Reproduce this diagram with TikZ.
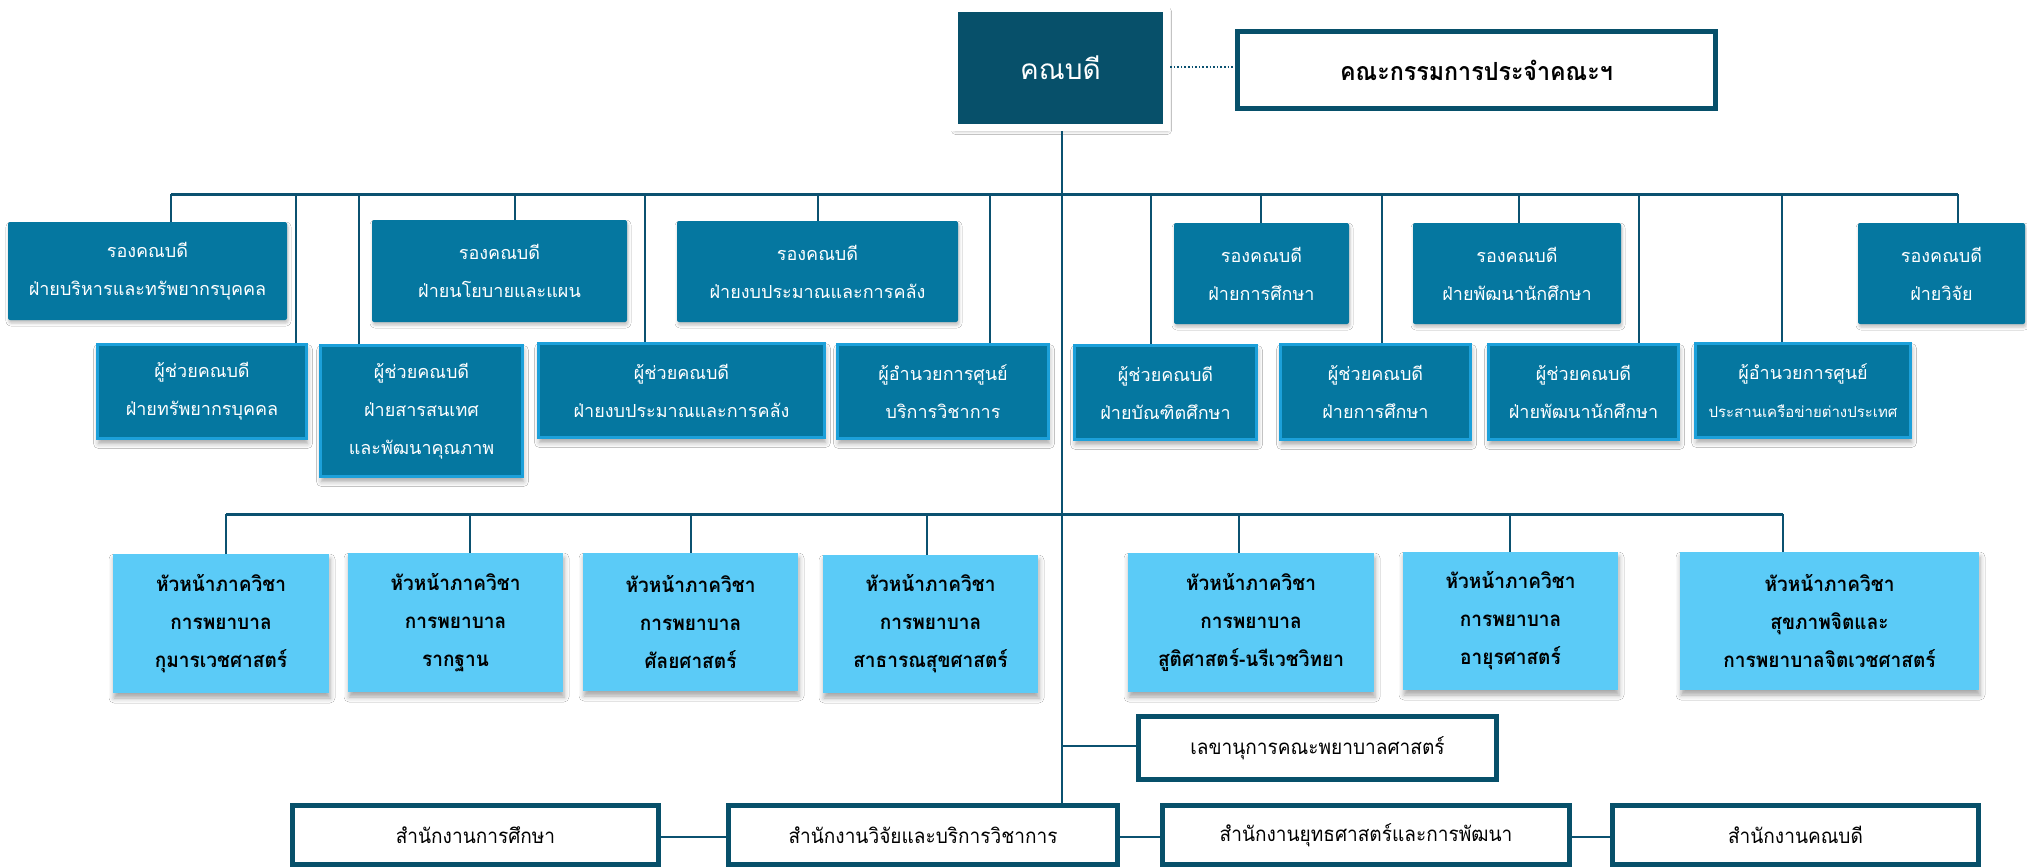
\documentclass[tikz,border=0pt]{standalone}
\usepackage{fontspec}
\setmainfont[Script=Thai]{Loma}
\newfontfamily\thaicond[Script=Thai,FakeStretch=0.93]{Loma}
\usetikzlibrary{shadows.blur}
\definecolor{deancol}{HTML}{07506A}
\definecolor{midcol}{HTML}{0577A0}
\definecolor{lightcol}{HTML}{5BCBF7}
\definecolor{edgecol}{HTML}{1CA0DA}
\definecolor{linecol}{HTML}{0B5170}
\tikzset{
  conn/.style={draw=linecol, line width=2.4pt},
  bus/.style={draw=linecol, line width=3pt},
  deanbox/.style={fill=deancol, draw=white, line width=7pt, text=white, inner sep=0pt, align=center,
    blur shadow={shadow xshift=1pt, shadow yshift=-3pt, shadow blur radius=4pt, shadow opacity=40},
    font=\fontsize{28}{30}\selectfont},
  combox/.style={fill=white, draw=deancol, line width=5pt, inner sep=0pt, align=center,
    font=\thaicond\bfseries\fontsize{25}{30}\selectfont},
  vicebox/.style={fill=midcol, rounded corners=2pt, text=white, inner sep=0pt, align=center,
    blur shadow={shadow xshift=1pt, shadow yshift=-3pt, shadow blur radius=3pt, shadow opacity=25},
    font=\fontsize{18}{38}\selectfont},
  asstbox/.style={fill=midcol, draw=edgecol, line width=3pt, text=white, inner sep=0pt, align=center,
    blur shadow={shadow xshift=1pt, shadow yshift=-5pt, shadow blur radius=5pt, shadow opacity=35},
    font=\fontsize{18}{38}\selectfont},
  deptbox/.style={fill=lightcol, text=black, inner sep=0pt, align=center,
    blur shadow={shadow xshift=1pt, shadow yshift=-5pt, shadow blur radius=5pt, shadow opacity=35},
    font=\thaicond\bfseries\fontsize{20.5}{38}\selectfont},
  officebox/.style={fill=white, draw=deancol, line width=5pt, inner sep=0pt, align=center,
    font=\thaicond\fontsize{20.5}{26}\selectfont},
}
\begin{document}
\begin{tikzpicture}[x=1pt,y=-1pt]
\useasboundingbox[fill=white] (0,0) rectangle (2027,867);

% top
\node[deanbox, minimum width=212pt, minimum height=119pt] (dean) at (1060.5,68) {คณบดี};
\node[combox, minimum width=478pt, minimum height=77pt] (com) at (1476.5,70) {คณะกรรมการประจำคณะฯ};
\draw[linecol, line width=1.6pt, dotted] (dean.east |- 0,67) -- (com.west |- 0,67);

% bus coordinates
\coordinate (busL) at (171,194);
\coordinate (busR) at (1958,194);
\coordinate (dbusL) at (226,514);
\coordinate (dbusR) at (1783,514);

% vice deans
\node[vicebox, minimum width=279pt, minimum height=98pt] (v1) at (147.5,271) {รองคณบดี\\ฝ่ายบริหารและทรัพยากรบุคคล};
\node[vicebox, minimum width=255pt, minimum height=102pt] (v2) at (499.5,271) {รองคณบดี\\ฝ่ายนโยบายและแผน};
\node[vicebox, minimum width=281pt, minimum height=101pt] (v3) at (817.5,271.5) {รองคณบดี\\ฝ่ายงบประมาณและการคลัง};
\node[vicebox, minimum width=175pt, minimum height=101pt] (v4) at (1261.5,273.5) {รองคณบดี\\ฝ่ายการศึกษา};
\node[vicebox, minimum width=208pt, minimum height=101pt] (v5) at (1517,273.5) {รองคณบดี\\ฝ่ายพัฒนานักศึกษา};
\node[vicebox, minimum width=167pt, minimum height=101pt] (v6) at (1941.5,273.5) {รองคณบดี\\ฝ่ายวิจัย};

% assistants
\node[asstbox, minimum width=209pt, minimum height=94pt] (a1) at (202,391.5) {ผู้ช่วยคณบดี\\ฝ่ายทรัพยากรบุคคล};
\node[asstbox, minimum width=202pt, minimum height=131pt] (a2) at (421.5,411) {ผู้ช่วยคณบดี\\ฝ่ายสารสนเทศ\\และพัฒนาคุณภาพ};
\node[asstbox, minimum width=286pt, minimum height=94pt] (a3) at (681.5,390.5) {ผู้ช่วยคณบดี\\ฝ่ายงบประมาณและการคลัง};
\node[asstbox, minimum width=211pt, minimum height=94pt] (a4) at (943,391.5) {ผู้อำนวยการศูนย์\\บริการวิชาการ};
\node[asstbox, minimum width=182pt, minimum height=94pt] (a5) at (1165.5,392.5) {ผู้ช่วยคณบดี\\ฝ่ายบัณฑิตศึกษา};
\node[asstbox, minimum width=190pt, minimum height=95pt] (a6) at (1375.5,392) {ผู้ช่วยคณบดี\\ฝ่ายการศึกษา};
\node[asstbox, minimum width=190pt, minimum height=95pt] (a7) at (1583.5,392) {ผู้ช่วยคณบดี\\ฝ่ายพัฒนานักศึกษา};
\node[asstbox, minimum width=215pt, minimum height=94pt] (a8) at (1803,390.5) {ผู้อำนวยการศูนย์\\{\fontsize{15}{30}\selectfont ประสานเครือข่ายต่างประเทศ}};

% departments
\node[deptbox, minimum width=216pt, minimum height=139pt] (d1) at (221,623.5) {หัวหน้าภาควิชา\\การพยาบาล\\กุมารเวชศาสตร์};
\node[deptbox, minimum width=215pt, minimum height=139pt] (d2) at (455.5,622.5) {หัวหน้าภาควิชา\\การพยาบาล\\รากฐาน};
\node[deptbox, minimum width=215pt, minimum height=138pt] (d3) at (690.5,622) {หัวหน้าภาควิชา\\การพยาบาล\\ศัลยศาสตร์};
\node[deptbox, minimum width=215pt, minimum height=138pt] (d4) at (930.5,624) {หัวหน้าภาควิชา\\การพยาบาล\\สาธารณสุขศาสตร์};
\node[deptbox, minimum width=246pt, minimum height=139pt] (d5) at (1251,622.5) {หัวหน้าภาควิชา\\การพยาบาล\\สูติศาสตร์-นรีเวชวิทยา};
\node[deptbox, minimum width=215pt, minimum height=138pt] (d6) at (1510.5,621) {หัวหน้าภาควิชา\\การพยาบาล\\อายุรศาสตร์};
\node[deptbox, minimum width=299pt, minimum height=138pt] (d7) at (1829.5,621) {หัวหน้าภาควิชา\\สุขภาพจิตและ\\การพยาบาลจิตเวชศาสตร์};

% secretary and offices
\node[officebox, minimum width=358pt, minimum height=63pt] (sec) at (1317.5,748) {เลขานุการคณะพยาบาลศาสตร์};
\node[officebox, minimum width=366pt, minimum height=59pt] (o1) at (475.5,835) {สำนักงานการศึกษา};
\node[officebox, minimum width=389pt, minimum height=59pt] (o2) at (923,835) {สำนักงานวิจัยและบริการวิชาการ};
\node[officebox, minimum width=407pt, minimum height=59pt] (o3) at (1366,835) {สำนักงานยุทธศาสตร์และการพัฒนา};
\node[officebox, minimum width=366pt, minimum height=59pt] (o4) at (1795.5,835) {สำนักงานคณบดี};

% connectors
\draw[bus] (busL) -- (busR);
\draw[bus] (dbusL) -- (dbusR);
\draw[conn] (dean.south -| 1062,0) -- (o2.north -| 1062,0);
\foreach \xx/\nn in {171/v1,296/a1,359/a2,515/v2,645/a3,818/v3,990/a4,1151/a5,1261/v4,1382/a6,1519/v5,1639/a7,1782/a8,1958/v6}{
  \draw[conn] (\xx,194) -- (\nn.north -| \xx,0);
}
\foreach \xx/\nn in {226/d1,470/d2,691/d3,927/d4,1239/d5,1510/d6,1783/d7}{
  \draw[conn] (\xx,514) -- (\nn.north -| \xx,0);
}
\coordinate (secj) at (1062,746);
\draw[conn] (secj) -- (sec.west |- secj);
\draw[conn] (o1.east |- 0,837) -- (o2.west |- 0,837);
\draw[conn] (o2.east |- 0,837) -- (o3.west |- 0,837);
\draw[conn] (o3.east |- 0,837) -- (o4.west |- 0,837);
\end{tikzpicture}
\end{document}
